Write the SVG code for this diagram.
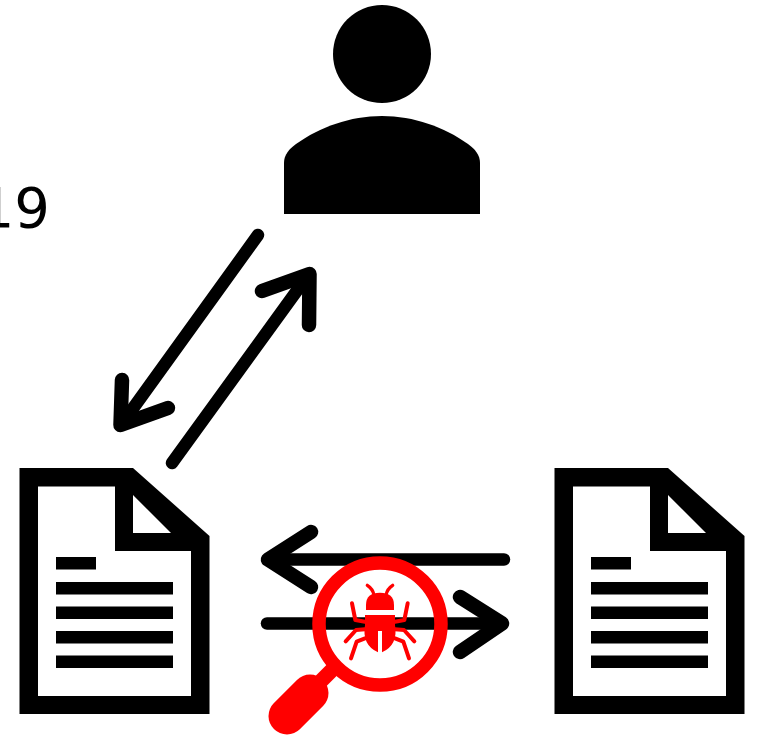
<svg xmlns="http://www.w3.org/2000/svg" width="760" height="737" viewBox="0 0 760 737">
<style>
.arrow{fill:none;stroke:#000;stroke-width:12.5;stroke-linecap:round;stroke-linejoin:round}
.head{fill:none;stroke:#000;stroke-width:14.5;stroke-linecap:round;stroke-linejoin:round}
.bugleg{fill:none;stroke:#f00;stroke-width:12;stroke-linecap:round;stroke-linejoin:round}
.label{font-family:"DejaVu Sans",sans-serif;font-size:56px;fill:#000}
</style>
<defs>
<g id="doc">
<path fill-rule="evenodd" d="M19.5 468H133L209.5 536V714H19.5ZM38 486.5V696H191V551H115V486.5ZM133 495V533H171Z"/>
<rect x="56" y="557" width="40" height="12.5"/>
<rect x="56" y="582" width="117" height="12.5"/>
<rect x="56" y="606.5" width="117" height="12.5"/>
<rect x="56" y="631" width="117" height="12.5"/>
<rect x="56" y="655.5" width="117" height="12.5"/>
</g>
</defs>
<rect width="760" height="737" fill="#fff"/>
<text class="label" x="50" y="227" text-anchor="end">19</text>
<g id="connectors">
<path class="arrow" d="M258 235L121 425"/><path class="head" d="M122 380L120.500 425L168 408"/>
<path class="arrow" d="M172 463L309 274"/><path class="head" d="M309 325L309.500 274L262 291"/>
<path class="arrow" d="M504 559.500H270"/><path class="head" d="M311 532L268 559.500L311 587"/>
<path class="arrow" d="M267 623.500H500"/><path class="head" d="M460 597L502 623.500L460 652"/>
</g>
<g id="user">
<circle cx="382" cy="54" r="49"/>
<path d="M284 214V163C284 155 289 149 296 144C320 127 350 116 382 116C414 116 444 127 468 144C475 149 480 155 480 163V214Z"/>
</g>
<g id="doc-left"><use href="#doc"/></g>
<g id="doc-right"><use href="#doc" x="535"/></g>
<g id="bug-search">
<circle cx="380" cy="624" r="61" fill="none" stroke="#f00" stroke-width="13.500"/>
<path d="M315 687L335 667" stroke="#f00" stroke-width="15" fill="none"/>
<path d="M287 716L310 693" stroke="#f00" stroke-width="37" stroke-linecap="round" fill="none"/>
<g transform="translate(250 510) scale(.33333)" fill="#f00">
<path d="M348 300V285Q348 248 390 248Q432 248 432 285V300Z"/>
<path d="M352 226Q368 236 372 255M428 226Q412 236 408 255" fill="none" stroke="#f00" stroke-width="10" stroke-linecap="round"/>
<path d="M345 315H435V345Q445 405 396 427V363H384V427Q335 405 345 345Z"/>
<path class="bugleg" d="M306 280L316 330L345 335M473 280L463 330L435 335M287 394L318 360L345 358M493 394L462 360L435 358M303 445L320 395L345 385M477 445L460 395L435 385"/>
</g>
</g>
</svg>
